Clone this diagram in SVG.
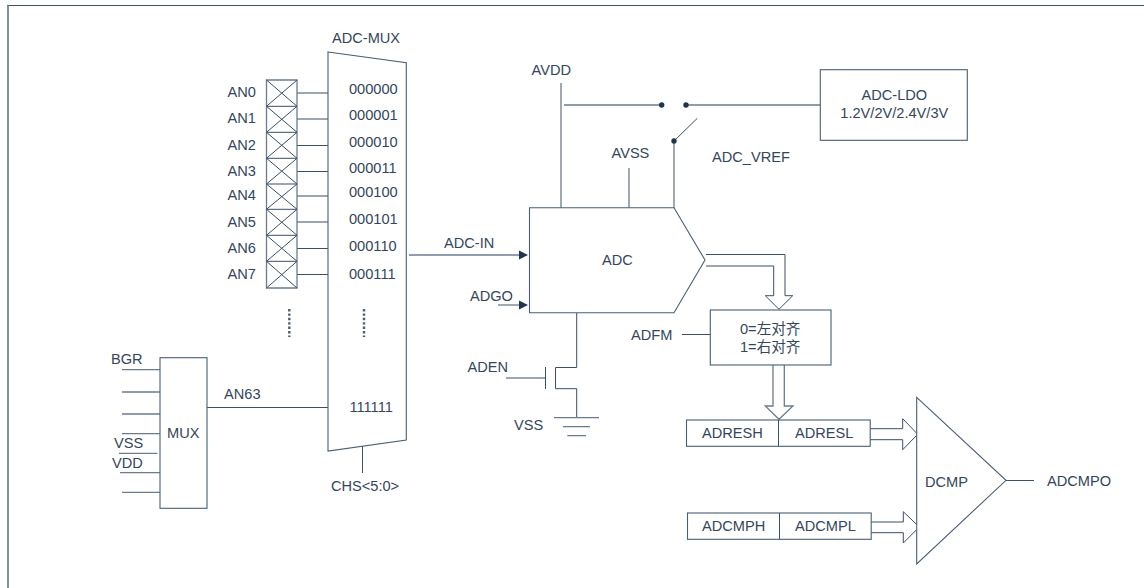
<svg xmlns="http://www.w3.org/2000/svg" width="1144" height="588" viewBox="0 0 1144 588">
<style>
text{font-family:"Liberation Sans","Noto Sans CJK SC",sans-serif;font-size:14.600px;fill:#34465b}
.s{fill:none;stroke:#3b4f66;stroke-width:1}
.b{fill:#fff;stroke:#4a5e75;stroke-width:1.100}
.g{fill:none;stroke:#6b7c90;stroke-width:1.300}
.m{text-anchor:middle}
.d{fill:#1f344d;stroke:none}
.dot{fill:none;stroke:#4a5e75;stroke-width:2.400;stroke-dasharray:2.400 2}
</style>
<rect width="1144" height="588" fill="#fff"/>
<path id="frame-top" d="M7 5.500H1144" fill="none" stroke="#3f5268" stroke-width="1"/>
<path id="frame-left" d="M8 5V588" fill="none" stroke="#6b7c90" stroke-width="1.700"/>

<g id="connectors">
<path class="s" d="M297 93H328M297 119H328M297 145.500H328M297 171.500H328M297 196H328M297 222H328M297 248.500H328M297 274.500H328"/>
<path class="s" d="M207 407.500H328"/>
<path class="g" d="M122 369.700H160M122 392H160M122 414H160M122 433.700H160M119 453.300H157.500M120 472.700H160M122 492.300H160"/>
<path class="s" d="M362.500 446V473"/>
<path class="g" d="M409 255H519"/>
<path class="d" d="M528 255L519 250.500V259.500Z"/>
<path class="g" d="M498 305H519"/>
<path class="d" d="M528 305L519 300.500V309.500Z"/>
<path class="g" d="M561 83V208M564 105H661M687 105H820M629 168V208M674 141V208"/>
<path class="s" d="M674 141L697.300 118.300"/>
<circle class="d" cx="661.700" cy="105" r="2.700"/>
<circle class="d" cx="686" cy="105" r="2.700"/>
<circle class="d" cx="674" cy="141" r="2.700"/>
<path class="s" d="M706 254.500H785V295.700H792.700L779 309.300L765.300 295.700H773.700V266H706"/>
<path class="s" d="M576.700 313V367.500H555.500V388.700H576.700V417.700M545.500 367V389M506 378H545.500"/>
<path class="g" d="M554 417.700H599M563 426.700H590M567.300 435.700H586"/>
<path class="s" d="M682 334.500H710"/>
<path class="g" d="M773 365V406H765.300L779 419.300L793 406H784.300V365"/>
<path class="s" d="M870 428.700H902.700V418.700L917.700 434.300L902.700 449.700V439.700H870"/>
<path class="s" d="M871 522H903.300V511.700L919.300 527L903.300 543V532.700H871"/>
<path class="s" d="M1006 480.500H1034"/>
</g>

<g id="an-pads">
<path class="g" d="M266.500 80H297V288H266.500Z"/>
<path class="s" d="M266.500 106.300H297M266.500 132.300H297M266.500 158.300H297M266.500 184H297M266.500 209.300H297M266.500 235.300H297M266.500 261.300H297"/>
<path class="s" d="M266.500 80L297 106.300M297 80L266.500 106.300M266.500 106.300L297 132.300M297 106.300L266.500 132.300M266.500 132.300L297 158.300M297 132.300L266.500 158.300M266.500 158.300L297 184M297 158.300L266.500 184M266.500 184L297 209.300M297 184L266.500 209.300M266.500 209.300L297 235.300M297 209.300L266.500 235.300M266.500 235.300L297 261.300M297 235.300L266.500 261.300M266.500 261.300L297 288M297 261.300L266.500 288"/>
<text x="227.500" y="97">AN0</text><text x="227.500" y="123">AN1</text><text x="227.500" y="150">AN2</text><text x="227.500" y="176">AN3</text><text x="227.500" y="200">AN4</text><text x="227.500" y="227">AN5</text><text x="227.500" y="253">AN6</text><text x="227.500" y="279">AN7</text>
<path class="dot" d="M289.300 309V337"/>
</g>

<g id="adc-mux">
<path class="b" d="M328 52L406.300 62.700V440L328 451Z"/>
<text x="332" y="43">ADC-MUX</text>
<text x="349" y="94">000000</text><text x="349" y="120">000001</text><text x="349" y="147">000010</text><text x="349" y="173">000011</text><text x="349" y="197">000100</text><text x="349" y="224">000101</text><text x="349" y="251">000110</text><text x="349" y="279">000111</text>
<path class="dot" d="M364 309V337"/>
<text x="349.500" y="412">111111</text>
<text x="331" y="491">CHS&lt;5:0&gt;</text>
</g>

<g id="mux">
<rect class="b" x="160" y="357.700" width="47" height="150.600"/>
<text x="167" y="438">MUX</text>
<text x="111" y="364">BGR</text><text x="114" y="448">VSS</text><text x="112" y="468">VDD</text>
<text x="224" y="399">AN63</text>
</g>

<g id="adc">
<path class="b" d="M529.500 207.700H674L705 260L674 312.700H529.500Z"/>
<text x="602" y="265">ADC</text>
<text x="444" y="248">ADC-IN</text><text x="470" y="300.500">ADGO</text>
<text x="531.500" y="75">AVDD</text><text x="611.500" y="158">AVSS</text>
<text x="712" y="161.500">ADC_VREF</text>
<text x="467.500" y="371.500">ADEN</text><text x="514" y="429.500">VSS</text><text x="631" y="340">ADFM</text>
</g>

<g id="adc-ldo">
<rect class="b" x="820.300" y="69.700" width="147" height="70.600"/>
<text class="m" x="894.300" y="100">ADC-LDO</text>
<text class="m" x="894.300" y="118">1.2V/2V/2.4V/3V</text>
</g>

<g id="adfm">
<rect class="b" x="710.300" y="310" width="120.700" height="55"/>
<text x="740" y="333.500">0=左对齐</text>
<text x="740" y="352">1=右对齐</text>
</g>

<g id="adres">
<rect class="b" x="686.500" y="420" width="183.700" height="26.300"/>
<path class="s" d="M778.500 420V446"/>
<text x="702" y="438">ADRESH</text><text x="795" y="438">ADRESL</text>
</g>

<g id="adcmp">
<rect class="b" x="687.500" y="513" width="183.700" height="26.300"/>
<path class="s" d="M779.500 513V539"/>
<text x="702" y="531">ADCMPH</text><text x="795" y="531">ADCMPL</text>
</g>

<g id="dcmp">
<path class="b" d="M916.700 397.300L1006 480.300L916.700 564Z"/>
<text x="925" y="486.500">DCMP</text>
<text x="1047" y="486">ADCMPO</text>
</g>
</svg>
